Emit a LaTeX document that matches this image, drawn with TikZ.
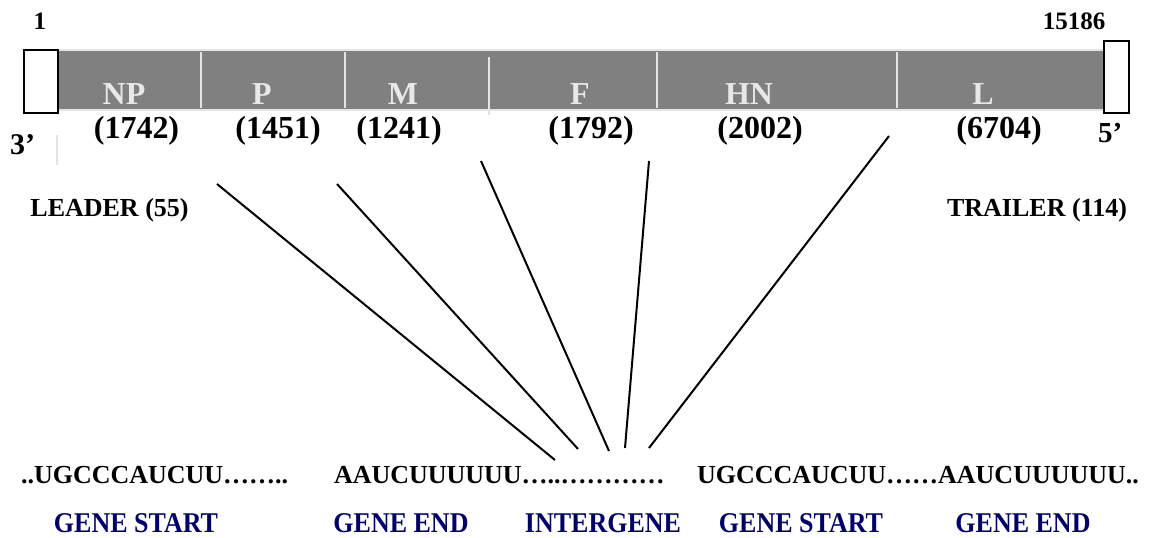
\documentclass[tikz,border=0pt]{standalone}
\usepackage{fontspec}
\setmainfont{Liberation Serif}
\definecolor{barfill}{RGB}{128,128,128}
\definecolor{barline}{RGB}{228,228,228}
\definecolor{genetext}{RGB}{232,232,232}
\definecolor{navy}{RGB}{0,0,102}
\newcommand\tallword[1]{\scalebox{1}[1.1]{#1}}

\begin{document}
\begin{tikzpicture}[x=1pt, y=-1pt, inner sep=0pt, outer sep=0pt,
	endbox/.style={rectangle,draw=black,fill=white,line width=2.5pt},
	genename/.style={anchor=base,text=genetext,font=\fontsize{32}{36}\selectfont\bfseries},
	genelen/.style={anchor=base,font=\fontsize{32}{36}\selectfont\bfseries},
	plain/.style={font=\fontsize{26}{30}\selectfont\bfseries},
	region/.style={anchor=base,text=navy,font=\fontsize{26}{30}\selectfont\bfseries},
	link/.style={line width=2pt}]
	\useasboundingbox (0,0) rectangle (1160,538);
	% genome bar
	\fill[barfill] (58,51) rectangle (1104,109);
	\draw[barline,line width=2pt] (58,50) -- (1104,50) (58,110) -- (1104,110);
	\foreach \x in {201,345,657,897}
		\draw[barline,line width=2pt] (\x,52) -- (\x,108);
	\draw[barline,line width=2pt] (489,57) -- (489,115);
	\draw[barline,line width=2pt] (57,135) -- (57,165);
	\node[endbox,minimum width=34pt,minimum height=63pt] (leaderbox) at (41,81.5) {};
	\node[endbox,minimum width=25pt,minimum height=72pt] (trailerbox) at (1116.5,77) {};
	% positions
	\node[plain,anchor=base,font=\fontsize{25}{30}\selectfont\bfseries] (first) at (40,29) {1};
	\node[plain,anchor=base,font=\fontsize{25}{30}\selectfont\bfseries] (last) at (1074,29) {15186};
	% genes
	\node[genename] (np) at (124,104) {NP};
	\node[genename] (p) at (262,104) {P};
	\node[genename] (m) at (403,104) {M};
	\node[genename] (f) at (580,104) {F};
	\node[genename] (hn) at (749,104) {HN};
	\node[genename] (l) at (983,104) {L};
	\node[genelen] (nplen) at (136.5,138) {(1742)};
	\node[genelen] (plen) at (278,138) {(1451)};
	\node[genelen] (mlen) at (399,138) {(1241)};
	\node[genelen] (flen) at (591,138) {(1792)};
	\node[genelen] (hnlen) at (760,138) {(2002)};
	\node[genelen] (llen) at (999,138) {(6704)};
	\node[genelen,anchor=base west,font=\fontsize{30}{36}\selectfont\bfseries] (three) at (10,154) {3’};
	\node[genelen,anchor=base west,font=\fontsize{29}{36}\selectfont\bfseries] (five) at (1098,142) {5’};
	\node[plain,anchor=base] (leader) at (109.5,216) {LEADER (55)};
	\node[plain,anchor=base] (trailer) at (1037,216) {TRAILER (114)};
	% sequences
	\node[plain,anchor=base west] (seqa) at (21,483) {..UGCCCAUCUU……..};
	\node[plain,anchor=base west] (seqb) at (334,483) {AAUCUUUUUU…..…………};
	\node[plain,anchor=base west] (seqc) at (697,483) {UGCCCAUCUU……AAUCUUUUUU..};
	\node[region] (starta) at (136,532) {\tallword{GENE START}};
	\node[region] (enda) at (401,532) {\tallword{GENE END}};
	\node[region] (inter) at (603,532) {\tallword{INTERGENE}};
	\node[region] (startb) at (801,532) {\tallword{GENE START}};
	\node[region] (endb) at (1023,532) {\tallword{GENE END}};
	% junction lines
	\coordinate (ja) at (217,184);
	\coordinate (jb) at (337,184);
	\coordinate (jc) at (481,161);
	\coordinate (jd) at (649,161);
	\coordinate (je) at (889,136);
	\coordinate (ka) at (555,460);
	\coordinate (kb) at (578,449);
	\coordinate (kc) at (609,451);
	\coordinate (kd) at (625,448);
	\coordinate (ke) at (649,448);
	\draw[link] (ja) -- (ka);
	\draw[link] (jb) -- (kb);
	\draw[link] (jc) -- (kc);
	\draw[link] (jd) -- (kd);
	\draw[link] (je) -- (ke);
\end{tikzpicture}
\end{document}
